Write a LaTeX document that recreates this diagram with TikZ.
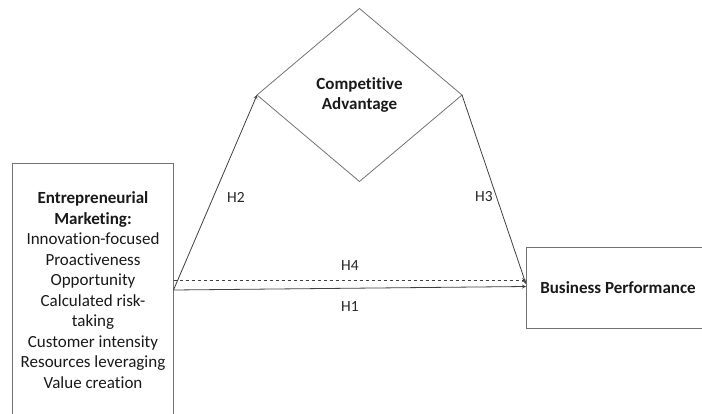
\documentclass[tikz,border=0pt]{standalone}
\usepackage{fontspec}
\setmainfont[Ligatures=NoCommon]{Carlito}
\usetikzlibrary{shapes.geometric}

\begin{document}
\begin{tikzpicture}[x=1pt,y=-1pt]
\useasboundingbox (0,0) rectangle (702,413);
\clip (0,0) rectangle (702,413);
\tikzset{BoxStyle/.style={draw=black!55,line width=0.8pt,outer sep=0pt,inner sep=0pt,align=center,text=black!90,font=\fontsize{17}{20.5}\selectfont},
  EdgeStyle/.style={draw=black!75,line width=0.8pt,->,>=stealth},
  LabelStyle/.style={font=\fontsize{15.5}{18}\selectfont,text=black!85}}

\node[BoxStyle,minimum width=161pt,minimum height=254pt] (em) at (93,290)
  {\textbf{Entrepreneurial}\\\textbf{Marketing:}\\Innovation-focused\\Proactiveness\\Opportunity\\Calculated risk-\\taking\\Customer intensity\\Resources leveraging\\Value creation};
\node[BoxStyle,diamond,minimum width=205pt,minimum height=173pt] (ca) at (359.5,95)
  {\textbf{Competitive}\\\textbf{Advantage}};
\node[BoxStyle,minimum width=184pt,minimum height=81pt] (bp) at (618,287.5)
  {\textbf{Business Performance}};

\draw[EdgeStyle] (em.east) -- (ca.west);
\draw[EdgeStyle] (ca.east) -- ([yshift=3.5pt]bp.west);
\draw[EdgeStyle,dashed] ([yshift=10pt]em.east) -- ([yshift=7.5pt]bp.west);
\draw[EdgeStyle] (em.east) -- ([yshift=1pt]bp.west);

\node[LabelStyle] (h2) at (236,197) {H2};
\node[LabelStyle] (h3) at (484,197) {H3};
\node[LabelStyle] (h4) at (350,266) {H4};
\node[LabelStyle] (h1) at (350,307) {H1};
\end{tikzpicture}
\end{document}
